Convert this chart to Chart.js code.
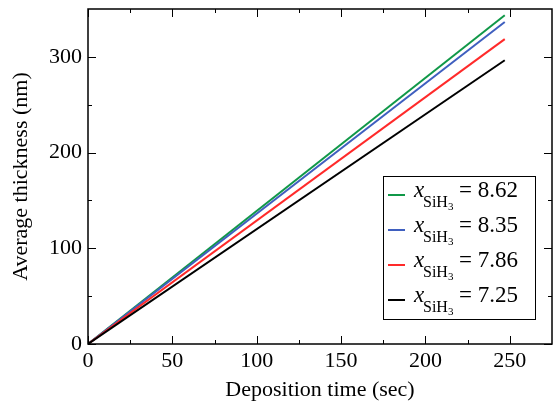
<!DOCTYPE html>
<html><head><meta charset="utf-8">
<script src="https://cdn.jsdelivr.net/npm/chart.js@4"></script>
<style>html,body{margin:0;padding:0;background:#fff}#wrap{width:554px;height:403px}</style>
</head><body><div id="wrap"><canvas id="c" width="554" height="403"></canvas></div>
<script>
const time = [0, 247];
const thick862 = [0, 343.5];
const thick835 = [0, 336.5];
const thick786 = [0, 318.5];
const thick725 = [0, 296.5];
const legendValues = ['8.62', '8.35', '7.86', '7.25'];
const colors = ['#109848', '#3f5fbf', '#ff2a2a', '#000000'];
const xMajor = [0, 50, 100, 150, 200, 250];
const xMinor = [25, 75, 125, 175, 225];
const yMajor = [0, 100, 200, 300];
const yMinor = [50, 150, 250];
const FONT = '"Liberation Serif", "Times New Roman", serif';

const series = [thick862, thick835, thick786, thick725];
const datasets = series.map((s, i) => ({
  label: 'x_SiH3 = ' + legendValues[i],
  data: time.map((t, k) => ({x: t, y: s[k]})),
  borderColor: colors[i], borderWidth: 2, pointRadius: 0, fill: false, tension: 0
}));
datasets.reverse();

const framePlugin = {
  id: 'frame',
  afterDraw(chart) {
    const {ctx, chartArea: a, scales: {x, y}} = chart;
    ctx.save();
    ctx.strokeStyle = '#000'; ctx.lineWidth = 1.5;
    ctx.strokeRect(a.left, a.top, a.right - a.left, a.bottom - a.top);
    ctx.lineWidth = 1;
    const tick = (v, len, isX) => {
      if (isX) {
        const px = Math.round(x.getPixelForValue(v)) + 0.5;
        ctx.beginPath(); ctx.moveTo(px, a.bottom); ctx.lineTo(px, a.bottom - len);
        ctx.moveTo(px, a.top); ctx.lineTo(px, a.top + len); ctx.stroke();
      } else {
        const py = Math.round(y.getPixelForValue(v)) + 0.5;
        ctx.beginPath(); ctx.moveTo(a.left, py); ctx.lineTo(a.left + len, py);
        ctx.moveTo(a.right, py); ctx.lineTo(a.right - len, py); ctx.stroke();
      }
    };
    xMajor.forEach(v => tick(v, 8, true));
    xMinor.forEach(v => tick(v, 4, true));
    yMajor.forEach(v => tick(v, 8, false));
    yMinor.forEach(v => tick(v, 4, false));
    // legend
    const bx = 383.5, by = 176.5, bw = 152, bh = 143;
    ctx.fillStyle = '#fff'; ctx.fillRect(bx, by, bw, bh);
    ctx.lineWidth = 1; ctx.strokeStyle = '#000'; ctx.strokeRect(bx, by, bw, bh);
    legendValues.forEach((val, i) => {
      const base = 197 + i * 35;
      ctx.strokeStyle = colors[i]; ctx.lineWidth = 2;
      ctx.beginPath(); ctx.moveTo(388, base - 2); ctx.lineTo(405, base - 2); ctx.stroke();
      ctx.fillStyle = '#000'; ctx.textBaseline = 'alphabetic'; ctx.textAlign = 'left';
      ctx.font = 'italic 23px ' + FONT;
      ctx.fillText('x', 414, base);
      ctx.font = '16px ' + FONT;
      ctx.fillText('SiH', 423, base + 10);
      const w = ctx.measureText('SiH').width;
      ctx.font = '11px ' + FONT;
      ctx.fillText('3', 423 + w, base + 13);
      ctx.font = '23px ' + FONT;
      ctx.fillText('= ' + val, 459, base);
    });
    ctx.restore();
  }
};

new Chart(document.getElementById('c'), {
  type: 'line',
  data: {datasets},
  options: {
    responsive: false, animation: false,
    layout: {padding: {left: 0, right: 2, top: 9, bottom: 0}},
    plugins: {legend: {display: false}, tooltip: {enabled: false}},
    scales: {
      x: {
        type: 'linear', min: 0, max: 275,
        grid: {display: false, drawTicks: false}, border: {display: false},
        afterBuildTicks: s => { s.ticks = xMajor.map(v => ({value: v})); },
        ticks: {color: '#000', font: {family: FONT, size: 22}, padding: 4, maxRotation: 0},
        title: {display: true, text: 'Deposition time (sec)', color: '#000', font: {family: FONT, size: 22}, padding: {top: 0, bottom: 0}},
        afterFit: s => { s.height = 403 - 344; s.paddingLeft = 0; s.paddingRight = 0; }
      },
      y: {
        type: 'linear', min: 0, max: 350,
        grid: {display: false, drawTicks: false}, border: {display: false},
        afterBuildTicks: s => { s.ticks = yMajor.map(v => ({value: v})); },
        ticks: {color: '#000', font: {family: FONT, size: 22}, padding: 6},
        title: {display: true, text: 'Average thickness (nm)', color: '#000', font: {family: FONT, size: 22}, padding: {top: 8, bottom: 4}},
        afterFit: s => { s.width = 88; s.paddingTop = 0; s.paddingBottom = 0; }
      }
    }
  },
  plugins: [framePlugin]
});
</script></body></html>
